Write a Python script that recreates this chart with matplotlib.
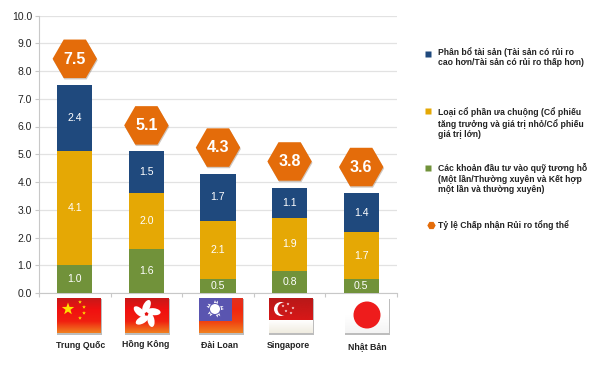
import numpy as np
import matplotlib
matplotlib.use("Agg")
import matplotlib.pyplot as plt
from matplotlib.colors import LinearSegmentedColormap
from matplotlib.patches import Circle, Ellipse, Polygon, Rectangle
from matplotlib.transforms import Affine2D
import matplotlib.patheffects as pe

plt.rcParams["font.family"] = ["Liberation Sans", "DejaVu Sans"]

countries = ["Trung Quốc", "Hồng Kông", "Đài Loan", "Singapore", "Nhật Bản"]
funds = [1.0, 1.6, 0.5, 0.8, 0.5]
style = [4.1, 2.0, 2.1, 1.9, 1.7]
assets = [2.4, 1.5, 1.7, 1.1, 1.4]
totals = [7.5, 5.1, 4.3, 3.8, 3.6]
y_ticks = [0, 1, 2, 3, 4, 5, 6, 7, 8, 9, 10]

legend_assets = "Phân bổ tài sản (Tài sản có rủi ro\ncao hơn/Tài sản có rủi ro thấp hơn)"
legend_style = ("Loại cổ phần ưa chuộng (Cổ phiếu\ntăng trưởng và giá trị nhỏ/Cổ phiếu\n"
                "giá trị lớn)")
legend_funds = ("Các khoản đầu tư vào quỹ tương hỗ\n(Một lần/Thường xuyên và Kết hợp\n"
                "một lần và thường xuyên)")
legend_total = "Tỷ lệ Chấp nhận Rủi ro tổng thể"

NAVY = "#1f497d"
GOLD = "#e5a805"
GREEN = "#71923a"
ORANGE = "#e46c0a"
INK = "#222222"
W, H = 600, 367

fig = plt.figure(figsize=(6, 3.67), dpi=100, facecolor="white")
ax = fig.add_axes([39 / W, 1 - 293 / H, 358 / W, 277.5 / H])

x = np.arange(len(countries))
bottom = np.zeros(len(x))
for vals, col in ((funds, GREEN), (style, GOLD), (assets, NAVY)):
    bars = ax.bar(x, vals, 0.49, bottom=bottom, color=col, zorder=3)
    ax.bar_label(bars, labels=[f"{v:.1f}" for v in vals], label_type="center",
                 color="white", fontsize=7.6, zorder=4)
    bottom += np.array(vals)

ax.plot(x, np.array(totals) + 0.94, "H", ms=32, color=ORANGE, mec="none", zorder=5,
        path_effects=[pe.SimplePatchShadow(offset=(0.5, -1), alpha=0.25), pe.Normal()])
for xi, t in zip(x, totals):
    ax.text(xi, t + 0.93, f"{t:.1f}", ha="center", va="center", color="white",
            fontsize=11.5, fontweight="bold", zorder=6)

ax.set_xlim(-0.5, 4.5)
ax.set_ylim(0, 10)
ax.set_yticks(y_ticks)
ax.set_yticklabels([f"{v:.1f}" for v in y_ticks], fontsize=7.5, color=INK)
ax.set_xticks(np.arange(-0.5, 5))
ax.set_xticklabels([])
ax.tick_params(color="#c8c8c8", length=3, width=0.8, pad=2)
ax.grid(axis="y", color="#e2e2e2", lw=0.9, zorder=0)
ax.set_axisbelow(True)
for s in ("top", "right"):
    ax.spines[s].set_visible(False)
for s in ("left", "bottom"):
    ax.spines[s].set_color("#c8c8c8")

# overlay in pixel coordinates for flags and legend
ov = fig.add_axes([0, 0, 1, 1], facecolor="none")
ov.axis("off")


def gradient(x0, y0, w, h, colors, z=1):
    cmap = LinearSegmentedColormap.from_list("f", colors)
    ov.imshow(np.linspace(0, 1, 64).reshape(-1, 1), cmap=cmap, aspect="auto",
              extent=(x0, x0 + w, y0 + h, y0), zorder=z)


def star(cx, cy, r, col="#ffe000", rot=0.0, z=3):
    a = np.arange(10) * np.pi / 5 + rot
    rad = np.where(np.arange(10) % 2 == 0, r, r * 0.4)
    ov.add_patch(Polygon(np.c_[cx + rad * np.sin(a), cy - rad * np.cos(a)],
                         color=col, lw=0, zorder=z))


def flag_shadow(x0, y0=298, w=44, h=35):
    ov.add_patch(Rectangle((x0 - 0.5, y0 + 0.5), w + 1, h + 1, color="#bdbdbd", lw=0, zorder=0.5))


RED_FADE = ["#c81818", "#f01010", "#f02010", "#f08020"]

# China
flag_shadow(57)
gradient(57, 298, 44, 35, RED_FADE)
star(68, 309, 6.5)
for sx, sy in ((80, 302), (84, 307), (84, 313), (80, 318)):
    star(sx, sy, 2)

# Hong Kong
flag_shadow(125)
gradient(125, 298, 44, 35, RED_FADE)
for k in range(5):
    ang = 90 + 72 * k
    cx = 146.5 + 7.5 * np.cos(np.radians(ang))
    cy = 314 - 7.5 * np.sin(np.radians(ang))
    ov.add_patch(Ellipse((cx, cy), 14, 7, angle=-ang + 25, color="white", lw=0, zorder=3))
ov.add_patch(Circle((146.5, 314), 1.2, color="#e01010", lw=0, zorder=4))

# Taiwan
flag_shadow(199)
gradient(199, 298, 44, 35, ["#e03020", "#f02810", "#f04010", "#f08020"])
ov.add_patch(Rectangle((199, 298), 33, 23, color="#5a55b0", lw=0, zorder=2))
star(215, 309, 9, col="white", z=3)
star(215, 309, 9, col="white", rot=np.pi / 10, z=3)
ov.add_patch(Circle((215, 309), 6, color="#5a55b0", lw=0, zorder=4))
ov.add_patch(Circle((215, 309), 5, color="white", lw=0, zorder=5))

# Singapore
flag_shadow(269)
gradient(269, 298, 44, 22, ["#b81818", "#d81818"])
gradient(269, 320, 44, 13, ["#ffffff", "#f0ece0"])
ov.add_patch(Circle((281, 309), 7, color="white", lw=0, zorder=3))
ov.add_patch(Circle((284, 309), 6.5, color="#c81818", lw=0, zorder=4))
for sx, sy in ((288, 304), (293, 308), (286, 311), (291, 313), (283, 306)):
    star(sx, sy, 1.5, col="white", z=5)

# Japan
flag_shadow(345)
gradient(345, 298, 44, 35, ["#ffffff", "#ffffff", "#f4f4f4"])
ov.add_patch(Circle((367, 315), 13.5, color="#ee1c1c", lw=0, zorder=3))

label_pos = [(81, 345), (146, 344.5), (220, 345.5), (288, 345.5), (367, 346.5)]
for name, (lx, ly) in zip(countries, label_pos):
    ov.text(lx, ly, name, ha="center", va="center", fontsize=6.3, fontweight="bold",
            color=INK)

# legend
leg = [(legend_assets, NAVY, "s", 428, 54, 52),
       (legend_style, GOLD, "s", 428, 111, 112),
       (legend_funds, GREEN, "s", 428, 168, 168),
       (legend_total, ORANGE, "H", 431, 225, 225)]
for txt, col, mk, mx, my, ty in leg:
    ov.plot([mx], [my], mk, color=col, ms=4 if mk == "s" else 6, mec="none")
    multi = "\n" in txt
    ov.text(438, ty, txt, ha="left", va="top" if multi else "center",
            fontsize=6.25, fontweight="bold", color=INK, linespacing=1.22,
            transform=ov.transData + Affine2D().translate(0, 5) if multi else ov.transData)

ov.set_xlim(0, W)
ov.set_ylim(H, 0)

fig.savefig("out.png", dpi=100, facecolor="white")
